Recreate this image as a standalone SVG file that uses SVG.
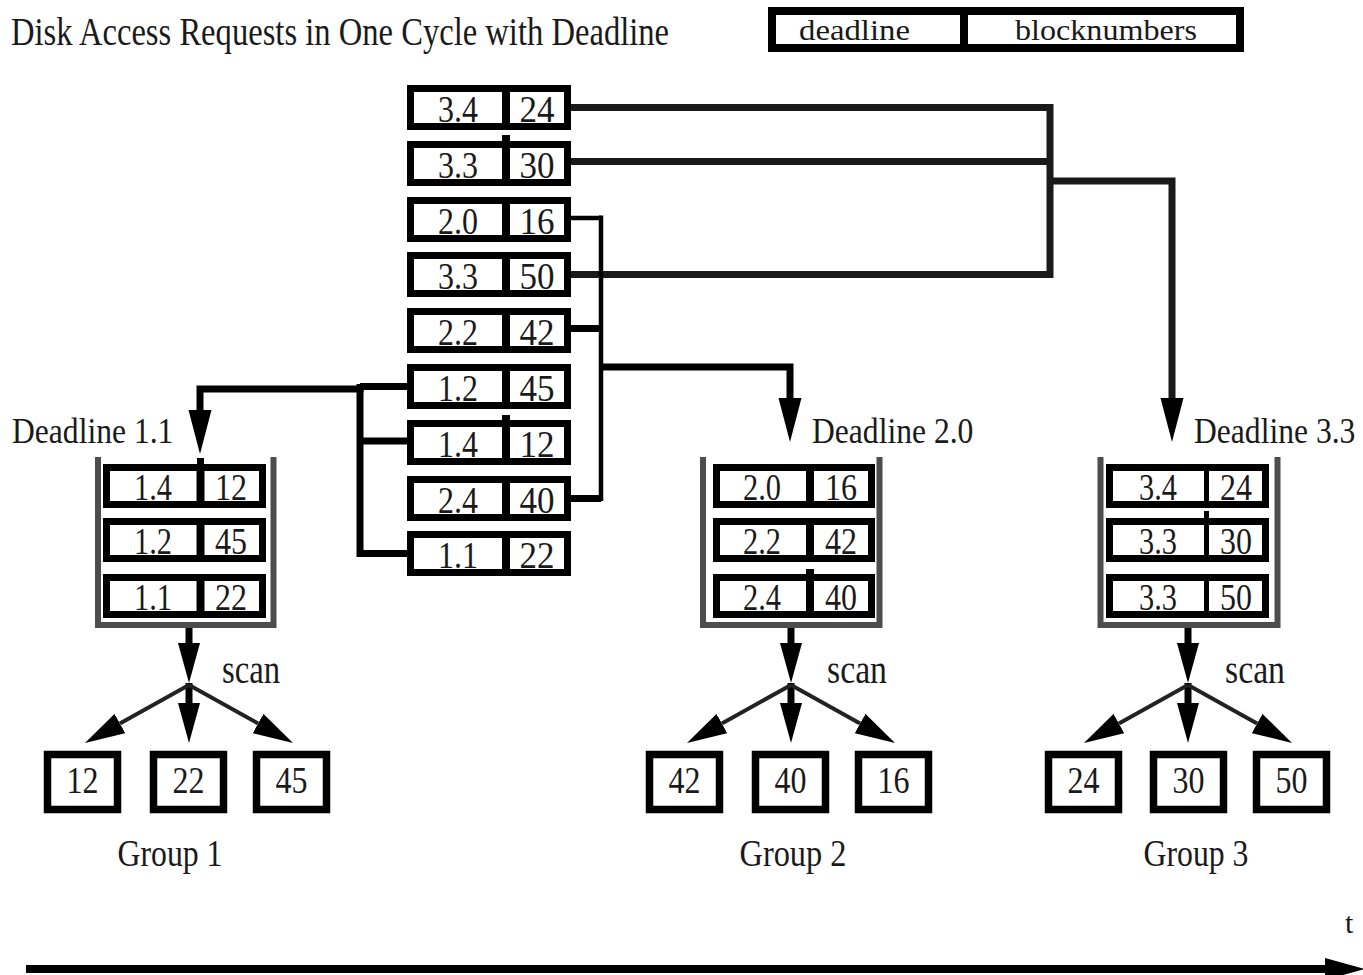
<svg xmlns="http://www.w3.org/2000/svg" width="1363" height="975" viewBox="0 0 1363 975">
  <style>
    .box { fill: #fff; stroke: #000; stroke-width: 7; }
    .leaf { fill: #fff; stroke: #000; stroke-width: 7.5; }
    .div { stroke: #000; stroke-width: 8; }
    .div3 { stroke: #000; stroke-width: 5; }
    .tub { fill: none; stroke: #4d4d4d; stroke-width: 6; }
    .wire { fill: none; stroke: #000; stroke-width: 7; }
    .wire-r { fill: none; stroke: #1a1a1a; stroke-width: 7; }
    .thin { fill: none; stroke: #000; stroke-width: 4.5; }
    .diag { fill: none; stroke: #222; stroke-width: 4; }
    .serif { font-family: "Liberation Serif", "Times New Roman", serif; fill: #1a1a1a; }
    .cell { font-size: 38px; text-anchor: middle; }
    .lbl { font-size: 31.6px; }
    .grp { font-size: 37px; text-anchor: middle; }
    .scan { font-size: 40px; }
    .leg { font-size: 30px; }
    .title { font-size: 32.6px; }
    .tick { fill: #000; }
  </style>
  <defs>
    <marker id="dl" markerUnits="userSpaceOnUse" markerWidth="44" markerHeight="24" refX="0" refY="12" orient="auto">
      <path d="M0,0.5 L44,12 L0,23.5 z" fill="#000"/>
    </marker>
    <marker id="sc" markerUnits="userSpaceOnUse" markerWidth="40" markerHeight="22" refX="0" refY="11" orient="auto">
      <path d="M0,0 L40,11 L0,22 z" fill="#000"/>
    </marker>
    <marker id="ax" markerUnits="userSpaceOnUse" markerWidth="40" markerHeight="24" refX="0" refY="12" orient="auto">
      <path d="M0,1 L40,12 L0,23 z" fill="#000"/>
    </marker>
  </defs>

  <rect width="1363" height="975" fill="#fff"/>

  <!-- heading and legend -->
  <g id="title">
    <text class="serif title" transform="translate(11,45) scale(1,1.2)">Disk Access Requests in One Cycle with Deadline</text>
  </g>
  <g id="legend">
    <rect x="772" y="11" width="468" height="37" fill="#fff" stroke="#000" stroke-width="8"/>
    <line class="div" x1="964" y1="11" x2="964" y2="48"/>
    <text class="serif leg" x="799" y="40" textLength="111" lengthAdjust="spacingAndGlyphs">deadline</text>
    <text class="serif leg" x="1015" y="40" textLength="182" lengthAdjust="spacingAndGlyphs">blocknumbers</text>
  </g>

  <!-- connectors -->
  <g id="connectors">
    <!-- deadline 3.3 bundle -->
    <path class="wire-r" d="M571,107.5 H1050 V274.5 H571"/>
    <path class="wire-r" d="M571,161.5 H1050"/>
    <path class="wire-r" d="M1050,181 H1172 V398" marker-end="url(#dl)"/>
    <!-- deadline 2.0 bundle -->
    <path class="thin" d="M571,218 H601"/>
    <path class="thin" d="M601,215.5 V501"/>
    <path class="wire" d="M571,328.5 H601"/>
    <path class="wire" d="M571,498.5 H601"/>
    <path class="wire" d="M601,367 H790 V398" marker-end="url(#dl)"/>
    <!-- deadline 1.1 bundle -->
    <path class="wire" d="M407,386.5 H360"/>
    <path class="wire" d="M407,553.5 H360 V384"/>
    <path class="wire" d="M360,441 H407"/>
    <path class="wire" d="M363.5,389 H200 V410" marker-end="url(#dl)"/>

    <!-- scan fan, group 1 -->
    <path class="wire" d="M189,628 V643" marker-end="url(#sc)"/>
    <path class="wire" d="M189,683 V703" marker-end="url(#sc)"/>
    <path class="diag" d="M189,685 L119.9,723.5" marker-end="url(#sc)"/>
    <path class="diag" d="M189,685 L258.1,723.5" marker-end="url(#sc)"/>
    <!-- scan fan, group 2 -->
    <path class="wire" d="M791,628 V643" marker-end="url(#sc)"/>
    <path class="wire" d="M791,683 V703" marker-end="url(#sc)"/>
    <path class="diag" d="M791,685 L721.9,723.5" marker-end="url(#sc)"/>
    <path class="diag" d="M791,685 L860.1,723.5" marker-end="url(#sc)"/>
    <!-- scan fan, group 3 -->
    <path class="wire" d="M1188,628 V643" marker-end="url(#sc)"/>
    <path class="wire" d="M1188,683 V703" marker-end="url(#sc)"/>
    <path class="diag" d="M1188,685 L1118.9,723.5" marker-end="url(#sc)"/>
    <path class="diag" d="M1188,685 L1257.1,723.5" marker-end="url(#sc)"/>

    <!-- time axis -->
    <path d="M26,969 H1325" stroke="#000" stroke-width="8" fill="none" marker-end="url(#ax)"/>
  </g>

  <!-- incoming request list -->
  <g id="req-1">
    <rect class="box" x="410.5" y="88.5" width="157" height="38"/>
    <line class="div" x1="506" y1="85" x2="506" y2="130"/>
    <text class="serif cell" x="458" y="122" textLength="40" lengthAdjust="spacingAndGlyphs">3.4</text>
    <text class="serif cell" x="537" y="122" textLength="35" lengthAdjust="spacingAndGlyphs">24</text>
  </g>
  <g id="req-2">
    <rect class="box" x="410.5" y="144.5" width="157" height="38"/>
    <line class="div" x1="506" y1="141" x2="506" y2="186"/>
    <text class="serif cell" x="458" y="178" textLength="40" lengthAdjust="spacingAndGlyphs">3.3</text>
    <text class="serif cell" x="537" y="178" textLength="35" lengthAdjust="spacingAndGlyphs">30</text>
  </g>
  <g id="req-3">
    <rect class="box" x="410.5" y="200.5" width="157" height="38"/>
    <line class="div" x1="506" y1="197" x2="506" y2="242"/>
    <text class="serif cell" x="458" y="234" textLength="40" lengthAdjust="spacingAndGlyphs">2.0</text>
    <text class="serif cell" x="537" y="234" textLength="35" lengthAdjust="spacingAndGlyphs">16</text>
  </g>
  <g id="req-4">
    <rect class="box" x="410.5" y="255.5" width="157" height="38"/>
    <line class="div" x1="506" y1="252" x2="506" y2="297"/>
    <text class="serif cell" x="458" y="289" textLength="40" lengthAdjust="spacingAndGlyphs">3.3</text>
    <text class="serif cell" x="537" y="289" textLength="35" lengthAdjust="spacingAndGlyphs">50</text>
  </g>
  <g id="req-5">
    <rect class="box" x="410.5" y="311.5" width="157" height="38"/>
    <line class="div" x1="506" y1="308" x2="506" y2="353"/>
    <text class="serif cell" x="458" y="345" textLength="40" lengthAdjust="spacingAndGlyphs">2.2</text>
    <text class="serif cell" x="537" y="345" textLength="35" lengthAdjust="spacingAndGlyphs">42</text>
  </g>
  <g id="req-6">
    <rect class="box" x="410.5" y="367.5" width="157" height="38"/>
    <line class="div" x1="506" y1="364" x2="506" y2="409"/>
    <text class="serif cell" x="458" y="401" textLength="40" lengthAdjust="spacingAndGlyphs">1.2</text>
    <text class="serif cell" x="537" y="401" textLength="35" lengthAdjust="spacingAndGlyphs">45</text>
  </g>
  <g id="req-7">
    <rect class="box" x="410.5" y="423.5" width="157" height="38"/>
    <line class="div" x1="506" y1="420" x2="506" y2="465"/>
    <text class="serif cell" x="458" y="457" textLength="40" lengthAdjust="spacingAndGlyphs">1.4</text>
    <text class="serif cell" x="537" y="457" textLength="35" lengthAdjust="spacingAndGlyphs">12</text>
  </g>
  <g id="req-8">
    <rect class="box" x="410.5" y="479.5" width="157" height="38"/>
    <line class="div" x1="506" y1="476" x2="506" y2="521"/>
    <text class="serif cell" x="458" y="513" textLength="40" lengthAdjust="spacingAndGlyphs">2.4</text>
    <text class="serif cell" x="537" y="513" textLength="35" lengthAdjust="spacingAndGlyphs">40</text>
  </g>
  <g id="req-9">
    <rect class="box" x="410.5" y="534.5" width="157" height="38"/>
    <line class="div" x1="506" y1="531" x2="506" y2="576"/>
    <text class="serif cell" x="458" y="568" textLength="40" lengthAdjust="spacingAndGlyphs">1.1</text>
    <text class="serif cell" x="537" y="568" textLength="35" lengthAdjust="spacingAndGlyphs">22</text>
  </g>
  <rect class="tick" x="502" y="135" width="8" height="7"/>
  <rect class="tick" x="502" y="415" width="8" height="6"/>

  <!-- queue for deadline 1.1 -->
  <g id="queue-1">
    <text class="serif lbl" transform="translate(12,443) scale(1,1.14)">Deadline 1.1</text>
    <path class="tub" d="M98,457 V625 H273.5 V457"/>
    <rect class="box" x="106.5" y="467.5" width="156" height="37"/>
    <line class="div" x1="200.5" y1="464" x2="200.5" y2="508"/>
    <text class="serif cell" x="153" y="500" textLength="38" lengthAdjust="spacingAndGlyphs">1.4</text>
    <text class="serif cell" x="231" y="500" textLength="32" lengthAdjust="spacingAndGlyphs">12</text>
    <rect class="box" x="106.5" y="521.5" width="156" height="37"/>
    <line class="div" x1="200.5" y1="518" x2="200.5" y2="562"/>
    <text class="serif cell" x="153" y="554" textLength="38" lengthAdjust="spacingAndGlyphs">1.2</text>
    <text class="serif cell" x="231" y="554" textLength="32" lengthAdjust="spacingAndGlyphs">45</text>
    <rect class="box" x="106.5" y="577.5" width="156" height="37"/>
    <line class="div" x1="200.5" y1="574" x2="200.5" y2="618"/>
    <text class="serif cell" x="153" y="610" textLength="38" lengthAdjust="spacingAndGlyphs">1.1</text>
    <text class="serif cell" x="231" y="610" textLength="32" lengthAdjust="spacingAndGlyphs">22</text>
    <rect class="tick" x="197" y="458" width="7" height="7"/>
  </g>

  <!-- queue for deadline 2.0 -->
  <g id="queue-2">
    <text class="serif lbl" transform="translate(812,443) scale(1,1.14)">Deadline 2.0</text>
    <path class="tub" d="M703,457 V625 H879.5 V457"/>
    <rect class="box" x="716.5" y="467.5" width="155" height="37"/>
    <line class="div" x1="810" y1="464" x2="810" y2="508"/>
    <text class="serif cell" x="762" y="500" textLength="38" lengthAdjust="spacingAndGlyphs">2.0</text>
    <text class="serif cell" x="841" y="500" textLength="32" lengthAdjust="spacingAndGlyphs">16</text>
    <rect class="box" x="716.5" y="521.5" width="155" height="37"/>
    <line class="div" x1="810" y1="518" x2="810" y2="562"/>
    <text class="serif cell" x="762" y="554" textLength="38" lengthAdjust="spacingAndGlyphs">2.2</text>
    <text class="serif cell" x="841" y="554" textLength="32" lengthAdjust="spacingAndGlyphs">42</text>
    <rect class="box" x="716.5" y="577.5" width="155" height="37"/>
    <line class="div" x1="810" y1="574" x2="810" y2="618"/>
    <text class="serif cell" x="762" y="610" textLength="38" lengthAdjust="spacingAndGlyphs">2.4</text>
    <text class="serif cell" x="841" y="610" textLength="32" lengthAdjust="spacingAndGlyphs">40</text>
    <rect class="tick" x="806" y="569" width="8" height="6"/>
  </g>

  <!-- queue for deadline 3.3 -->
  <g id="queue-3">
    <text class="serif lbl" transform="translate(1194,443) scale(1,1.14)">Deadline 3.3</text>
    <path class="tub" d="M1100.5,457 V625 H1277.5 V457"/>
    <rect class="box" x="1109.5" y="467.5" width="156" height="37"/>
    <line class="div3" x1="1206.5" y1="464" x2="1206.5" y2="508"/>
    <text class="serif cell" x="1158" y="500" textLength="38" lengthAdjust="spacingAndGlyphs">3.4</text>
    <text class="serif cell" x="1236" y="500" textLength="32" lengthAdjust="spacingAndGlyphs">24</text>
    <rect class="box" x="1109.5" y="521.5" width="156" height="37"/>
    <line class="div3" x1="1206.5" y1="518" x2="1206.5" y2="562"/>
    <text class="serif cell" x="1158" y="554" textLength="38" lengthAdjust="spacingAndGlyphs">3.3</text>
    <text class="serif cell" x="1236" y="554" textLength="32" lengthAdjust="spacingAndGlyphs">30</text>
    <rect class="box" x="1109.5" y="577.5" width="156" height="37"/>
    <line class="div3" x1="1206.5" y1="574" x2="1206.5" y2="618"/>
    <text class="serif cell" x="1158" y="610" textLength="38" lengthAdjust="spacingAndGlyphs">3.3</text>
    <text class="serif cell" x="1236" y="610" textLength="32" lengthAdjust="spacingAndGlyphs">50</text>
    <rect class="tick" x="1204" y="511" width="5" height="7"/>
  </g>

  <!-- scan results -->
  <g id="group-1">
    <text class="serif scan" x="222" y="683" textLength="58" lengthAdjust="spacingAndGlyphs">scan</text>
    <rect class="leaf" x="47.5" y="754.5" width="70" height="55"/>
    <text class="serif cell" x="82.5" y="793" textLength="32" lengthAdjust="spacingAndGlyphs">12</text>
    <rect class="leaf" x="153.5" y="754.5" width="70" height="55"/>
    <text class="serif cell" x="188.5" y="793" textLength="32" lengthAdjust="spacingAndGlyphs">22</text>
    <rect class="leaf" x="256.5" y="754.5" width="70" height="55"/>
    <text class="serif cell" x="291.5" y="793" textLength="32" lengthAdjust="spacingAndGlyphs">45</text>
    <text class="serif grp" x="170" y="866" textLength="105" lengthAdjust="spacingAndGlyphs">Group 1</text>
  </g>
  <g id="group-2">
    <text class="serif scan" x="827" y="683" textLength="60" lengthAdjust="spacingAndGlyphs">scan</text>
    <rect class="leaf" x="649.5" y="754.5" width="70" height="55"/>
    <text class="serif cell" x="684.5" y="793" textLength="32" lengthAdjust="spacingAndGlyphs">42</text>
    <rect class="leaf" x="755.5" y="754.5" width="70" height="55"/>
    <text class="serif cell" x="790.5" y="793" textLength="32" lengthAdjust="spacingAndGlyphs">40</text>
    <rect class="leaf" x="858.5" y="754.5" width="70" height="55"/>
    <text class="serif cell" x="893.5" y="793" textLength="32" lengthAdjust="spacingAndGlyphs">16</text>
    <text class="serif grp" x="793" y="866" textLength="107" lengthAdjust="spacingAndGlyphs">Group 2</text>
  </g>
  <g id="group-3">
    <text class="serif scan" x="1225" y="683" textLength="60" lengthAdjust="spacingAndGlyphs">scan</text>
    <rect class="leaf" x="1048.5" y="754.5" width="70" height="55"/>
    <text class="serif cell" x="1083.5" y="793" textLength="32" lengthAdjust="spacingAndGlyphs">24</text>
    <rect class="leaf" x="1153.5" y="754.5" width="70" height="55"/>
    <text class="serif cell" x="1188.5" y="793" textLength="32" lengthAdjust="spacingAndGlyphs">30</text>
    <rect class="leaf" x="1256.5" y="754.5" width="70" height="55"/>
    <text class="serif cell" x="1291.5" y="793" textLength="32" lengthAdjust="spacingAndGlyphs">50</text>
    <text class="serif grp" x="1196" y="866" textLength="105" lengthAdjust="spacingAndGlyphs">Group 3</text>
  </g>

  <g id="axis-label">
    <text class="serif" x="1345" y="933" font-size="30">t</text>
  </g>
</svg>
